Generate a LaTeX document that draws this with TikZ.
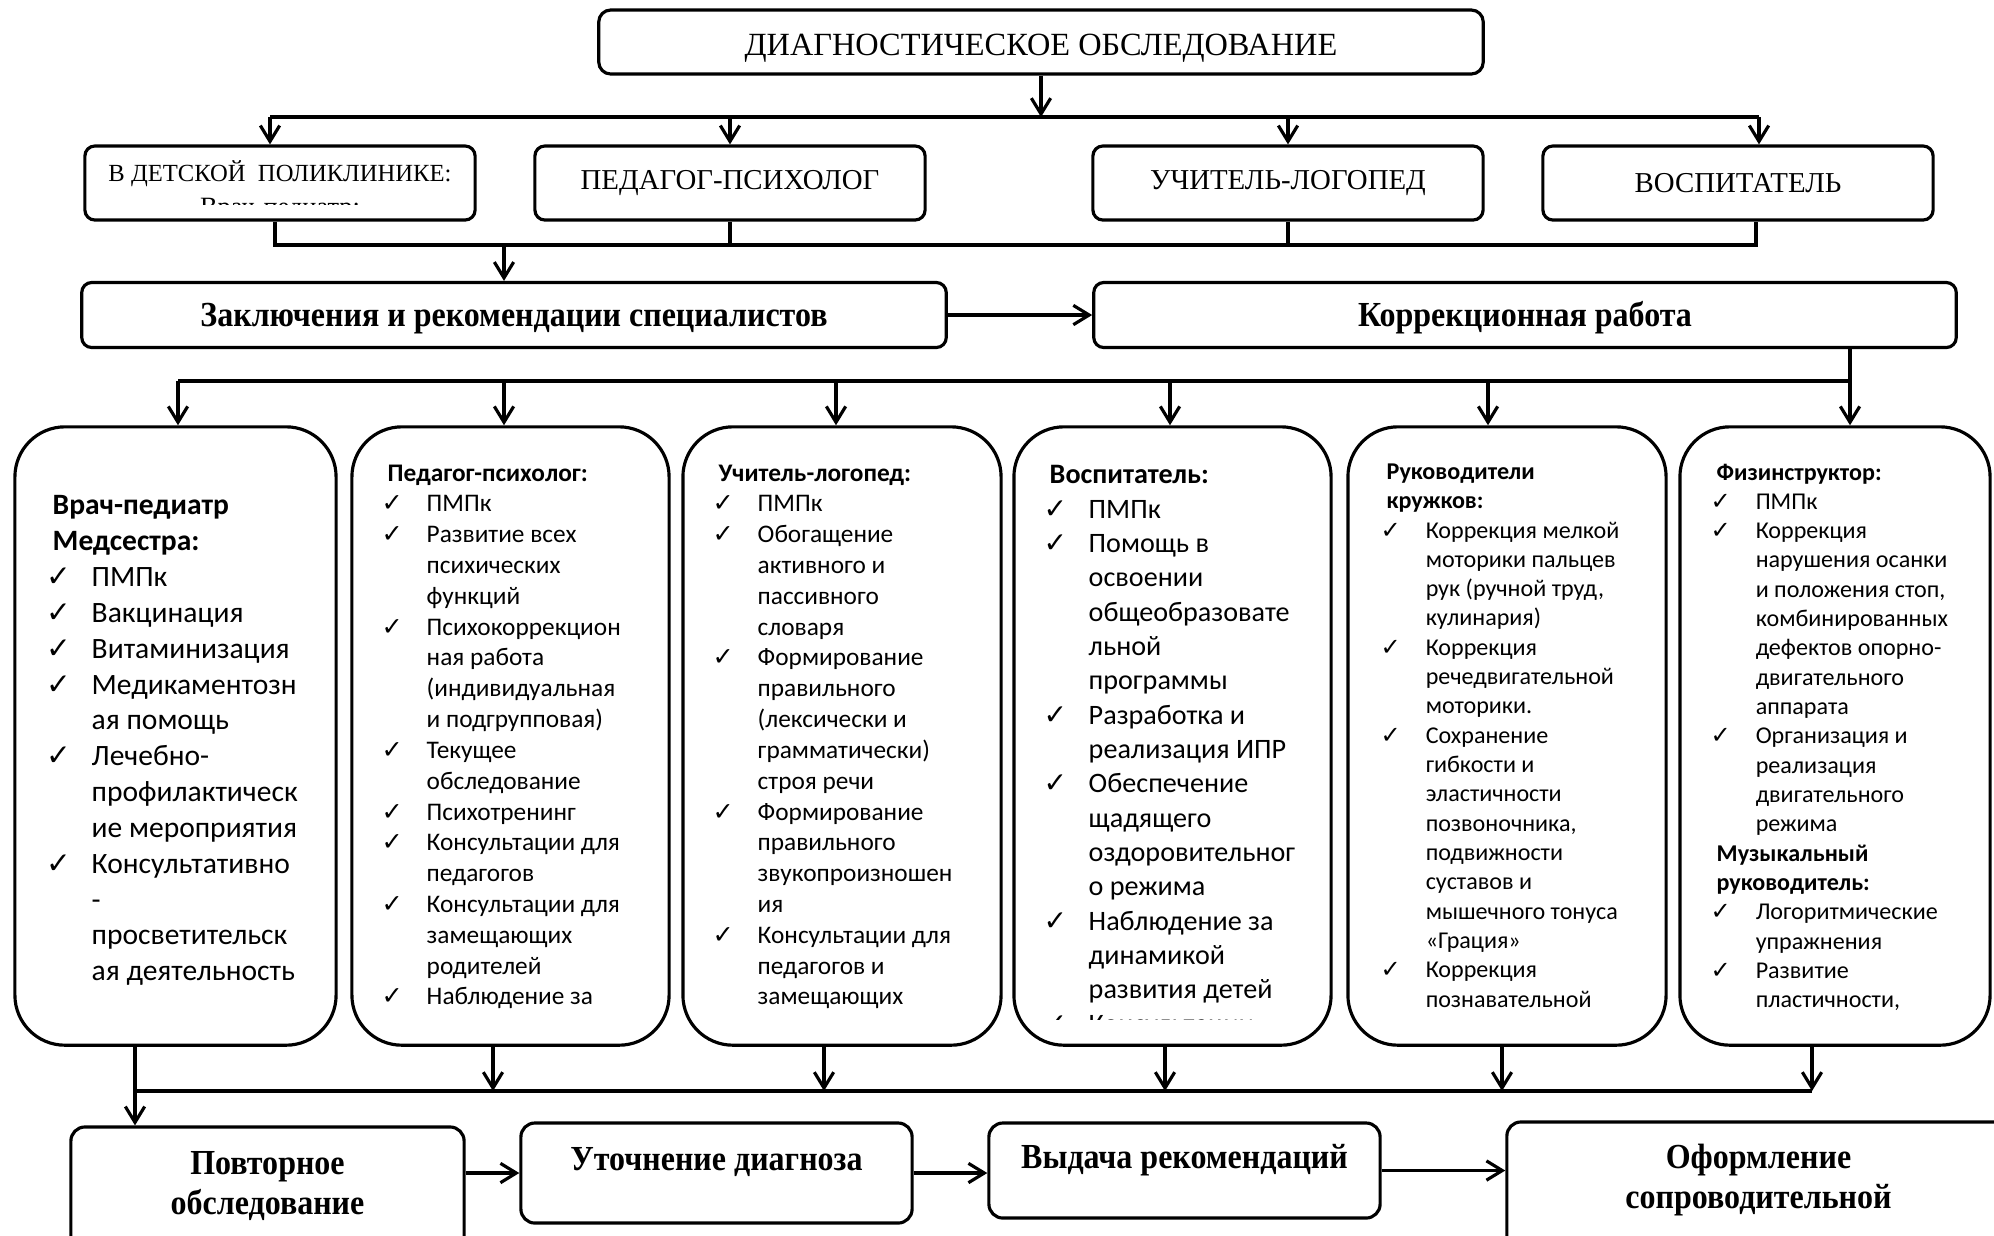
\documentclass[tikz,border=0pt]{standalone}
\usepackage{fontspec}
\setmainfont{Liberation Serif}
\setsansfont{Carlito}
\newfontfamily\checkfont{DejaVu Sans}
\newfontfamily\narrowserif[FakeStretch=0.91]{Liberation Serif}
\usetikzlibrary{positioning,arrows.meta}

\newcommand{\ck}{\makebox[0.45cm][l]{\checkfont\char"2713}}
\newcommand{\ind}{\hspace*{0.45cm}}
\newcommand{\hd}{\hspace*{0.06cm}}

\tikzset{
  every node/.style={
    inner sep=0pt
  },
  frame/.style={
    draw,
    line width=0.9pt
  },
  stage/.style={
    frame,
    rounded corners=0.12cm,
    text height=9.5pt,
    text depth=1.8pt,
    font=\fontsize{9.2}{11}\selectfont
  },
  specialist/.style={
    frame,
    rounded corners=0.1cm,
    minimum width=3.9cm,
    minimum height=0.74cm,
    font=\fontsize{8.2}{10}\selectfont
  },
  summary/.style={
    frame,
    rounded corners=0.1cm,
    minimum width=8.64cm,
    minimum height=0.65cm,
    text height=9pt,
    text depth=2.2pt,
    font=\narrowserif\bfseries\fontsize{10}{12}\selectfont
  },
  duty/.style={
    frame,
    rounded corners=0.5cm,
    minimum height=6.18cm
  },
  duties/.style={
    anchor=north west,
    align=left,
    font=\sffamily#1
  },
  outcome/.style={
    frame,
    rounded corners=0.14cm
  },
  closing/.style={
    align=center,
    font=\narrowserif\bfseries\fontsize{10}{11.4}\selectfont
  },
  wire/.style={
    line width=0.9pt
  },
  arr/.style={
    wire,
    -{Straight Barb[length=4.5pt,width=5.5pt]}
  }
}

\begin{document}
\begin{tikzpicture}[x=0.01cm,y=-0.01cm]
\useasboundingbox (0,0) rectangle (1994,1235);

% diagnostics
\node [stage, minimum width=8.84cm, minimum height=0.64cm] (diag) at (1041,42)
  {ДИАГНОСТИЧЕСКОЕ ОБСЛЕДОВАНИЕ};

% specialists
\node [specialist] (polyc) at (280,183) {};
\node [font=\fontsize{7}{8}\selectfont] (polyctitle) at (280,174)
  {В ДЕТСКОЙ\ \ ПОЛИКЛИНИКЕ:};
\begin{scope}
  \clip (84,150) rectangle (476,204);
  \node [anchor=base, font=\fontsize{7.5}{9}\selectfont] (polycnote) at (280,215)
    {Врач-педиатр:};
\end{scope}
\node [specialist] (psych) at (730,183) {ПЕДАГОГ-ПСИХОЛОГ};
\node [specialist] (logo) at (1288,183) {УЧИТЕЛЬ-ЛОГОПЕД};
\node [specialist] (educ) at (1738,183) {ВОСПИТАТЕЛЬ};

\coordinate (bus1L) at (270,117);
\coordinate (bus1R) at (1759,117);
\draw [arr] (diag.south) -- (diag.south |- bus1L);
\draw [wire] (bus1L) -- (bus1R);
\draw [arr] (bus1L) -- (bus1L |- polyc.north);
\draw [arr] (psych.north |- bus1L) -- (psych.north);
\draw [arr] (logo.north |- bus1L) -- (logo.north);
\draw [arr] (bus1R) -- (bus1R |- educ.north);

% conclusions
\node [summary] (concl) at (514,315) {Заключения и рекомендации специалистов};
\node [summary, minimum width=8.62cm] (corr) at (1525,315) {Коррекционная работа};

\coordinate (bus2L) at (275,245);
\coordinate (bus2R) at (1756,245);
\coordinate (bus2Z) at (504,245);
\draw [wire] (bus2L |- polyc.south) -- (bus2L) -- (bus2R) -- (bus2R |- educ.south);
\draw [wire] (psych.south) -- (psych.south |- bus2L);
\draw [wire] (logo.south) -- (logo.south |- bus2L);
\draw [arr] (bus2Z) -- (bus2Z |- concl.north);
\draw [arr] (concl) -- (corr);

% correction work
\node [duty, minimum width=3.21cm] (doc) at (175.5,736) {};
\node [duty, minimum width=3.17cm] (psy) at (510.5,736) {};
\node [duty, minimum width=3.18cm] (log) at (842,736) {};
\node [duty, minimum width=3.17cm] (vos) at (1172.5,736) {};
\node [duty, minimum width=3.18cm] (club) at (1507,736) {};
\node [duty, minimum width=3.10cm] (phys) at (1835,736) {};

\coordinate (bus3L) at (178,381);
\coordinate (bus3R) at (1850,381);
\draw [wire] (bus3R |- corr.south) -- (bus3R) -- (bus3L);
\foreach \x/\n in {178/doc,504/psy,836/log,1170/vos,1488/club,1850/phys}{
  \coordinate (top\n) at (\x,381);
  \draw [arr] (top\n) -- (top\n |- \n.north);
}

\node [duties={\fontsize{8.4}{10.19}\selectfont}] (doctext) at (46,495) {%
\hd\textbf{Врач-педиатр}\\
\hd\textbf{Медсестра:}\\
\ck ПМПк\\
\ck Вакцинация\\
\ck Витаминизация\\
\ck Медикаментозн\\
\ind ая помощь\\
\ck Лечебно-\\
\ind профилактическ\\
\ind ие мероприятия\\
\ck Консультативно\\
\ind -\\
\ind просветительск\\
\ind ая деятельность};

\node [duties={\fontsize{7.2}{8.76}\selectfont}] (psytext) at (381,464) {%
\hd\textbf{Педагог-психолог:}\\
\ck ПМПк\\
\ck Развитие всех\\
\ind психических\\
\ind функций\\
\ck Психокоррекцион\\
\ind ная работа\\
\ind (индивидуальная\\
\ind и подгрупповая)\\
\ck Текущее\\
\ind обследование\\
\ck Психотренинг\\
\ck Консультации для\\
\ind педагогов\\
\ck Консультации для\\
\ind замещающих\\
\ind родителей\\
\ck Наблюдение за};

\node [duties={\fontsize{7.2}{8.76}\selectfont}] (logtext) at (712,464) {%
\hd\textbf{Учитель-логопед:}\\
\ck ПМПк\\
\ck Обогащение\\
\ind активного и\\
\ind пассивного\\
\ind словаря\\
\ck Формирование\\
\ind правильного\\
\ind (лексически и\\
\ind грамматически)\\
\ind строя речи\\
\ck Формирование\\
\ind правильного\\
\ind звукопроизношен\\
\ind ия\\
\ck Консультации для\\
\ind педагогов и\\
\ind замещающих};

\begin{scope}
  \clip (1014,427) rectangle (1331,1019);
  \node [duties={\fontsize{8}{9.76}\selectfont}] (vostext) at (1043,465) {%
\hd\textbf{Воспитатель:}\\
\ck ПМПк\\
\ck Помощь в\\
\ind освоении\\
\ind общеобразовате\\
\ind льной\\
\ind программы\\
\ck Разработка и\\
\ind реализация ИПР\\
\ck Обеспечение\\
\ind щадящего\\
\ind оздоровительног\\
\ind о режима\\
\ck Наблюдение за\\
\ind динамикой\\
\ind развития детей\\
\ck Консультации};
\end{scope}

\node [duties={\fontsize{6.85}{8.34}\selectfont}] (clubtext) at (1380,463) {%
\hd\textbf{Руководители}\\
\hd\textbf{кружков:}\\
\ck Коррекция мелкой\\
\ind моторики пальцев\\
\ind рук (ручной труд,\\
\ind кулинария)\\
\ck Коррекция\\
\ind речедвигательной\\
\ind моторики.\\
\ck Сохранение\\
\ind гибкости и\\
\ind эластичности\\
\ind позвоночника,\\
\ind подвижности\\
\ind суставов и\\
\ind мышечного тонуса\\
\ind «Грация»\\
\ck Коррекция\\
\ind познавательной};

\node [duties={\fontsize{6.85}{8.34}\selectfont}] (phystext) at (1710,463) {%
\hd\textbf{Физинструктор:}\\
\ck ПМПк\\
\ck Коррекция\\
\ind нарушения осанки\\
\ind и положения стоп,\\
\ind комбинированных\\
\ind дефектов опорно-\\
\ind двигательного\\
\ind аппарата\\
\ck Организация и\\
\ind реализация\\
\ind двигательного\\
\ind режима\\
\hd\textbf{Музыкальный}\\
\hd\textbf{руководитель:}\\
\ck Логоритмические\\
\ind упражнения\\
\ck Развитие\\
\ind пластичности,};

% outcome
\node [outcome, minimum width=3.93cm, minimum height=1.33cm] (again) at (267.5,1193.5) {};
\node [outcome, minimum width=3.91cm, minimum height=1.00cm] (clarify) at (716.5,1173) {};
\node [outcome, minimum width=3.91cm, minimum height=0.95cm] (issue) at (1184.5,1170.5) {};
\node [outcome, minimum width=5.03cm, minimum height=1.38cm] (papers) at (1758.5,1191) {};
\node [closing, below=0.25cm of again.north] (againtxt) {Повторное\\обследование};
\node [closing, below=0.25cm of clarify.north] (clarifytxt) {Уточнение диагноза};
\node [closing, below=0.22cm of issue.north] (issuetxt) {Выдача рекомендаций};
\node [closing, below=0.23cm of papers.north] (paperstxt) {Оформление\\сопроводительной};

\coordinate (bus4L) at (135,1091);
\coordinate (bus4R) at (1812,1091);
\draw [wire] (bus4L) -- (bus4R);
\draw [arr] (bus4L |- doc.south) -- (bus4L |- again.north);
\foreach \x/\n in {493/psy,824/log,1165/vos,1502/club,1812/phys}{
  \coordinate (low\n) at (\x,1091);
  \draw [arr] (low\n |- \n.south) -- (low\n);
}
\draw [arr] (again.east |- clarify.west) -- (clarify.west);
\draw [arr] (clarify.east) -- (clarify.east -| issue.west);
\draw [arr] (issue.east) -- (issue.east -| papers.west);

\end{tikzpicture}
\end{document}
